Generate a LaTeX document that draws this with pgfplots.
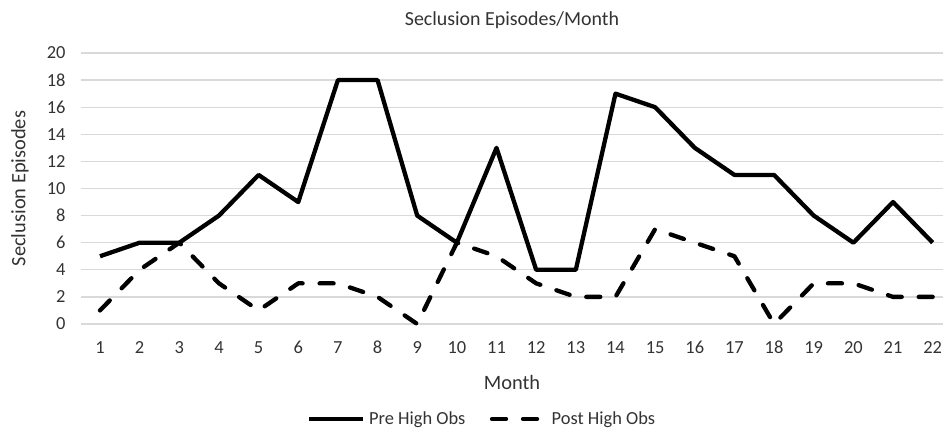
\documentclass[border=0pt]{standalone}
\usepackage{fontspec}
\setmainfont{Carlito}
\usepackage{pgfplots}
\pgfplotsset{compat=1.18}
\begin{document}
\begin{tikzpicture}
\path[use as bounding box] (0,0) rectangle (943bp,428bp);
\begin{axis}[
  at={(81bp,104bp)}, anchor=south west,
  scale only axis, width=862bp, height=271bp,
  xmin=0.521, xmax=22.26, ymin=0, ymax=20,
  xtick={1,...,22}, ytick={0,2,...,20},
  ymajorgrids, grid style={draw=black!15, line width=1.3bp},
  axis line style={draw=none}, tick style={draw=none},
  /pgf/number format/assume math mode=true,
  tick label style={font=\fontsize{18.5}{22}\selectfont, text=black!80},
  yticklabel style={xshift=-12bp},
  xticklabel style={anchor=base, yshift=-29bp},
  title={Seclusion Episodes/Month},
  title style={at={(axis description cs:0.5,1)}, anchor=center, yshift=27bp, font=\fontsize{20}{24}\selectfont, text=black!80},
  xlabel={Month},
  every axis x label/.style={at={(axis description cs:0.5,0)}, anchor=center, yshift=-58bp, font=\fontsize{20.5}{24}\selectfont, text=black!80},
  ylabel={Seclusion Episodes},
  every axis y label/.style={at={(axis description cs:0,0.5)}, anchor=center, xshift=-61bp, rotate=90, font=\fontsize{20.5}{24}\selectfont, text=black!80},
  legend columns=2,
  legend style={at={(axis description cs:0.5,0)}, anchor=center, yshift=-95bp, xshift=-29bp, draw=none, fill=none, inner sep=0pt, font=\fontsize{18.5}{22}\selectfont, text=black!80, column sep=0pt, nodes={inner sep=3.5bp}, /tikz/every even column/.append style={column sep=21bp}},
  legend image code/.code={\draw[#1] (0bp,0bp) -- (54bp,0bp);},
  clip=false,
]
\addplot[black, line width=4.3bp, line join=round] coordinates {
(1,5)(2,6)(3,6)(4,8)(5,11)(6,9)(7,18)(8,18)(9,8)(10,6)(11,13)(12,4)(13,4)(14,17)(15,16)(16,13)(17,11)(18,11)(19,8)(20,6)(21,9)(22,6)};
\addlegendentry{Pre High Obs}
\addplot[black, line width=4.3bp, line join=round, line cap=round, dash pattern=on 14bp off 17bp] coordinates {
(1,1)(2,4)(3,6)(4,3)(5,1)(6,3)(7,3)(8,2)(9,0)(10,6)(11,5)(12,3)(13,2)(14,2)(15,7)(16,6)(17,5)(18,0)(19,3)(20,3)(21,2)(22,2)};
\addlegendentry{Post High Obs}
\end{axis}
\end{tikzpicture}
\end{document}
